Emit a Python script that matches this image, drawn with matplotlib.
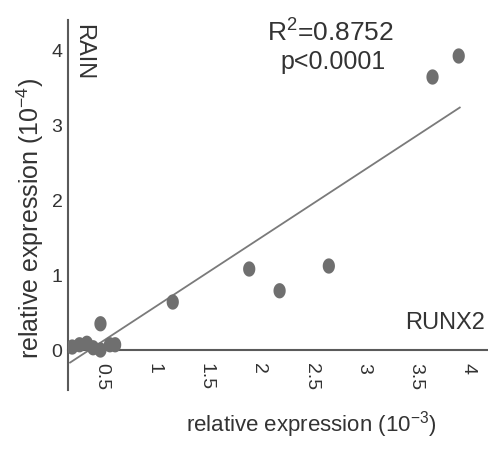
import numpy as np
import matplotlib.pyplot as plt
from matplotlib.path import Path

plt.rcParams['font.family'] = ['Liberation Sans', 'DejaVu Sans']
plt.rcParams['mathtext.fontset'] = 'custom'
plt.rcParams['mathtext.rm'] = 'Liberation Sans'
plt.rcParams['mathtext.it'] = 'Liberation Sans'

# RUNX2 (x, 10^-3) vs RAIN (y, 10^-4) relative expression
runx2 = [0.22, 0.29, 0.36, 0.42, 0.49, 0.49, 0.58, 0.63,
         1.18, 1.91, 2.20, 2.67, 3.66, 3.91]
rain = [0.04, 0.07, 0.09, 0.03, 0.00, 0.35, 0.07, 0.07,
        0.64, 1.08, 0.79, 1.12, 3.64, 3.92]

# linear fit shown on the plot
fit_slope = 0.914
fit_intercept = -0.35
fit_x = [0.2, 3.92]

x_ticks = [0.5, 1, 1.5, 2, 2.5, 3, 3.5, 4]
x_tick_labels = ['0.5', '1', '1.5', '2', '2.5', '3', '3.5', '4']
y_ticks = [0, 1, 2, 3, 4]
y_tick_labels = ['0', '1', '2', '3', '4']

dot_color = '#6f6f6f'
axis_color = '#5a5a5a'
text_color = '#333333'

# slightly tall ellipse used as the point marker
theta = np.linspace(0, 2 * np.pi, 60)
ellipse = Path(np.column_stack([0.8 * np.cos(theta), np.sin(theta)]), closed=True)

fig = plt.figure(figsize=(4.89, 4.5), dpi=100)
ax = fig.add_axes([68 / 489, 1 - 390 / 450, 419 / 489, 370 / 450])

fx = np.array(fit_x)
ax.plot(fx, fit_slope * fx + fit_intercept, color='#7a7a7a', lw=1.3, zorder=2)
ax.scatter(runx2, rain, s=11 ** 2, marker=ellipse, color=dot_color,
           edgecolors='none', zorder=3)

ax.set_xlim(0.18, 4.18)
ax.set_ylim(-0.533, 4.4)

for side in ['top', 'right']:
    ax.spines[side].set_visible(False)
ax.spines['bottom'].set_position(('data', 0))
ax.spines['bottom'].set_color(axis_color)
ax.spines['left'].set_color(axis_color)
ax.spines['bottom'].set_linewidth(1.5)
ax.spines['left'].set_linewidth(1.5)

ax.set_xticks(x_ticks)
ax.set_xticklabels(x_tick_labels, rotation=270, fontsize=14, color=text_color)
ax.set_yticks(y_ticks)
ax.set_yticklabels(y_tick_labels, fontsize=14, color=text_color)
ax.tick_params(axis='x', length=0, pad=9)
ax.tick_params(axis='y', length=0, pad=4)

ax.text(4.16, 0.22, 'RUNX2', ha='right', va='bottom', fontsize=17, color=text_color)
fig.text(83 / 489, 1 - 52 / 450, 'RAIN', rotation=270, ha='center', va='center',
         fontsize=17, color=text_color)

fig.text(331 / 489, 1 - 33 / 450, r'R$^{2}$=0.8752', ha='center', va='center',
         fontsize=19, color=text_color)
fig.text(333 / 489, 1 - 62 / 450, 'p<0.0001', ha='center', va='center',
         fontsize=18, color=text_color)

fig.text(311 / 489, 1 - 425 / 450, r'relative expression (10$^{\mathrm{-3}}$)',
         ha='center', va='center', fontsize=16, color=text_color)
fig.text(30 / 489, 1 - 218 / 450, r'relative expression (10$^{\mathrm{-4}}$)',
         rotation=90, ha='center', va='center', fontsize=18, color=text_color)

fig.savefig('out.png', dpi=100)
